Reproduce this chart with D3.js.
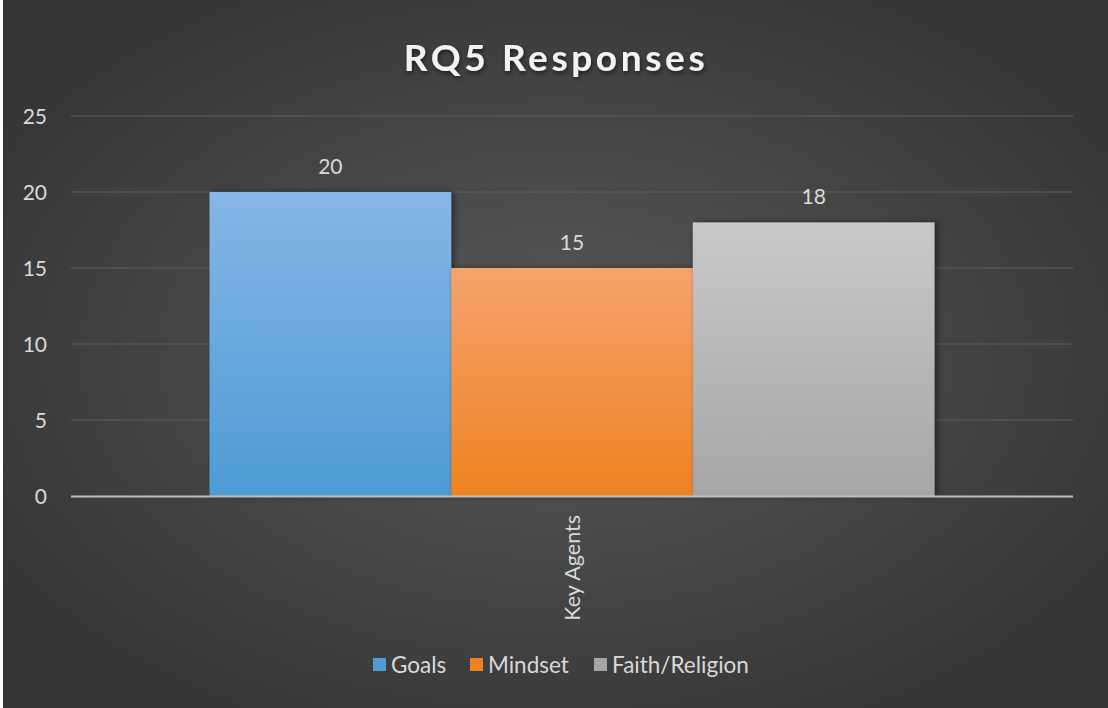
<!DOCTYPE html>
<html><head><meta charset="utf-8">
<script src="https://cdn.jsdelivr.net/npm/d3@7/dist/d3.min.js"></script>
<style>html,body{margin:0;padding:0;background:#fff;overflow:hidden}svg{display:block}</style>
</head><body>
<script>
const categories = ["Key Agents"];
const seriesNames = ["Goals", "Mindset", "Faith/Religion"];
const goalsValues = [20];
const mindsetValues = [15];
const faithValues = [18];
const yTicks = [0, 5, 10, 15, 20, 25];
const title = "RQ5 Responses";

const W = 1108, H = 708;
const font = "Lato, 'Open Sans', sans-serif";
const svg = d3.select("body").append("svg").attr("width", W).attr("height", H);
const defs = svg.append("defs");

const bg = defs.append("radialGradient").attr("id","bg").attr("cx","50%").attr("cy","50%").attr("r","60%");
bg.append("stop").attr("offset","0%").attr("stop-color","#595959");
bg.append("stop").attr("offset","100%").attr("stop-color","#353535");

svg.append("rect").attr("width",W).attr("height",H).attr("fill","#ffffff");
svg.append("rect").attr("x",3).attr("y",0).attr("width",W-3).attr("height",H).attr("fill","url(#bg)");

const colors = [["#86b6e6","#4e9bd5"],["#f6a36e","#ee8221"],["#c9c9c9","#a6a6a6"]];
colors.forEach((c,i)=>{
  const g = defs.append("linearGradient").attr("id","g"+i).attr("x1",0).attr("y1",0).attr("x2",0).attr("y2",1);
  g.append("stop").attr("offset","0%").attr("stop-color",c[0]);
  g.append("stop").attr("offset","100%").attr("stop-color",c[1]);
});
const sh = defs.append("filter").attr("id","sh").attr("x","-10%").attr("y","-10%").attr("width","130%").attr("height","130%");
sh.append("feDropShadow").attr("dx",3).attr("dy",0).attr("stdDeviation",3).attr("flood-color","#000").attr("flood-opacity",0.45);
const tsh = defs.append("filter").attr("id","tsh").attr("x","-10%").attr("y","-30%").attr("width","120%").attr("height","160%");
tsh.append("feDropShadow").attr("dx",1).attr("dy",2).attr("stdDeviation",2).attr("flood-color","#000").attr("flood-opacity",0.6);

const left = 71, right = 1073;
const y = d3.scaleLinear().domain([0,25]).range([496,116]);
const x0 = d3.scaleBand().domain(categories).range([left,right]).padding(0.1604);
const x1 = d3.scaleBand().domain(seriesNames).range([0,x0.bandwidth()]).padding(0);

svg.append("g").selectAll("line").data(yTicks.filter(t=>t>0)).join("line")
  .attr("x1",left).attr("x2",right).attr("y1",d=>y(d)).attr("y2",d=>y(d))
  .attr("stroke","#5f5f5f").attr("stroke-width",1);

const yAxis = d3.axisLeft(y).tickValues(yTicks).tickSize(0).tickPadding(0);
const ya = svg.append("g").attr("transform","translate(47,0)").call(yAxis);
ya.select(".domain").remove();
ya.selectAll("text").attr("fill","#d9d9d9").attr("font-size",21).attr("font-family",font).attr("dy","0.35em");

const data = seriesNames.map((s,i)=>({s, v:[goalsValues,mindsetValues,faithValues][i][0], i}));
const gcat = svg.append("g").attr("transform",`translate(${x0(categories[0])},0)`);
gcat.selectAll("rect").data(data).join("rect")
  .attr("x",d=>x1(d.s)).attr("width",x1.bandwidth())
  .attr("y",d=>y(d.v)).attr("height",d=>y(0)-y(d.v))
  .attr("fill",d=>`url(#g${d.i})`).attr("filter","url(#sh)");
gcat.selectAll("text").data(data).join("text")
  .attr("x",d=>x1(d.s)+x1.bandwidth()/2).attr("y",d=>y(d.v)-18)
  .attr("text-anchor","middle").attr("fill","#d9d9d9").attr("font-size",21).attr("font-family",font)
  .text(d=>d.v);

svg.append("line").attr("x1",left).attr("x2",right).attr("y1",y(0)+0.5).attr("y2",y(0)+0.5)
  .attr("stroke","#bdbdbd").attr("stroke-width",2);

const xAxis = d3.axisBottom(x0).tickSize(0).tickPadding(0);
const xa = svg.append("g").attr("transform",`translate(0,${y(0)})`).call(xAxis);
xa.select(".domain").remove();
xa.selectAll("text").attr("transform","rotate(-90)").attr("text-anchor","end")
  .attr("x",-19).attr("y",0).attr("dy","0.35em")
  .attr("fill","#d9d9d9").attr("font-size",21.5).attr("font-family",font);

svg.append("text").attr("x",556).attr("y",71).attr("text-anchor","middle")
  .attr("fill","#f2f2f2").attr("font-size",37).attr("font-weight","bold").attr("letter-spacing",3.6)
  .attr("font-family",font).attr("filter","url(#tsh)").text(title);

const legX = [373, 470, 594];
const lg = svg.append("g");
seriesNames.forEach((s,i)=>{
  lg.append("rect").attr("x",legX[i]).attr("y",658).attr("width",13).attr("height",13).attr("fill",colors[i][1]);
  lg.append("text").attr("x",legX[i]+18).attr("y",665).attr("dy","0.35em")
    .attr("fill","#d9d9d9").attr("font-size",22.5).attr("font-family",font).text(s);
});
</script>
</body></html>
